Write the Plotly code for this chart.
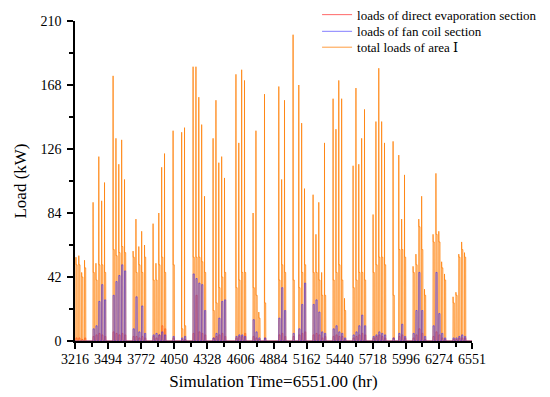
import plotly.graph_objects as go

# dia del año de cada dia con carga (dia 134 = hora 3216)
dias = [134, 135, 136, 137, 140, 141, 142, 143, 144, 147, 148, 149, 150, 151,
        154, 155, 156, 157, 158, 161, 162, 163, 164, 165, 168, 171, 172,
        175, 176, 177, 178, 179, 182, 183, 184, 185, 186, 190, 191, 192, 193,
        196, 197, 198, 200, 205, 206, 207, 210, 212, 213, 214,
        217, 218, 219, 220, 221, 224, 225, 226, 227, 228, 231, 232, 233, 234, 235,
        238, 239, 240, 241, 242, 245, 247, 248, 249, 252, 253, 254, 255, 256,
        259, 260, 261, 262, 263, 266, 267, 268, 269, 270]

# pico de arranque de la carga total (kW)
pico_total = [55, 56, 45, 53, 91, 51, 121, 92, 104, 174, 133, 116, 132, 106,
              59, 80, 62, 72, 63, 77, 51, 84, 114, 123, 138, 137, 140,
              180, 180, 160, 142, 95, 133, 158, 117, 121, 107, 175, 130, 178, 171,
              84, 138, 19, 162, 167, 106, 158, 201, 168, 143, 100,
              96, 70, 91, 45, 130, 159, 139, 171, 159, 28, 115, 166, 116, 133, 152,
              83, 144, 179, 144, 130, 131, 122, 80, 109, 49, 57, 80, 95, 34,
              70, 110, 72, 52, 44, 29, 32, 57, 65, 58]

# carga total durante el resto de la jornada (kW)
base_total = [50, 50, 42, 48, 45, 40, 50, 50, 45, 60, 56, 58, 62, 58,
              55, 45, 50, 45, 55, 40, 40, 50, 55, 45, 50, 8, 10,
              55, 55, 55, 52, 45, 20, 25, 35, 42, 45, 35, 40, 45, 45,
              35, 30, 15, 25, 40, 50, 45, 40, 35, 45, 50,
              45, 45, 40, 30, 30, 40, 45, 50, 40, 20, 35, 40, 45, 45, 40,
              45, 50, 55, 55, 50, 30, 60, 60, 55, 45, 50, 75, 60, 30,
              65, 70, 65, 48, 40, 25, 30, 55, 60, 55]

# carga de la seccion de fan coil (kW)
fan_coil = [0, 0, 0, 0, 8, 10, 26, 37, 27, 30, 39, 43, 50, 46,
            8, 29, 6, 23, 5, 4, 5, 4, 6, 4, 3, 2, 3,
            44, 41, 38, 37, 20, 2, 5, 15, 26, 27, 3, 4, 4, 3,
            14, 6, 2, 2, 15, 35, 20, 5, 8, 24, 38,
            24, 27, 19, 6, 5, 8, 10, 6, 5, 2, 4, 6, 10, 17, 10,
            3, 4, 6, 5, 4, 2, 5, 11, 3, 5, 20, 45, 20, 3,
            10, 45, 18, 5, 2, 2, 2, 3, 4, 3]

# carga de la seccion de evaporacion directa (kW)
evap_directa = [2, 2, 1, 2, 3, 4, 5, 4, 3, 6, 5, 4, 5, 4,
                3, 3, 2, 3, 2, 3, 2, 4, 10, 8, 2, 1, 1,
                5, 30, 6, 5, 4, 2, 3, 4, 5, 3, 2, 3, 3, 5,
                3, 2, 1, 2, 4, 5, 3, 3, 4, 5, 6,
                4, 5, 4, 2, 3, 3, 4, 3, 3, 1, 2, 3, 4, 5, 4,
                2, 3, 4, 3, 2, 2, 3, 4, 2, 2, 4, 8, 5, 1,
                3, 6, 4, 2, 1, 1, 1, 2, 2, 2]

ticks_x = [3216, 3494, 3772, 4050, 4328, 4606, 4884, 5162, 5440, 5718, 5996, 6274, 6551]
ticks_y = [0, 42, 84, 126, 168, 210]

T_INI, T_FIN = 3216, 6551
H_ON, H_OFF = 8, 18  # horas de arranque y parada de cada dia

# series horarias a partir de los datos diarios
xt, yt = [T_INI], [0]
xf, yf = [T_INI], [0]
xe, ye = [T_INI], [0]
for d, p, b, f, e in zip(dias, pico_total, base_total, fan_coil, evap_directa):
    h = d * 24
    xt += [h + H_ON - 1, h + H_ON, h + H_ON + 1, h + H_OFF, h + H_OFF + 1]
    yt += [0, p, b, b, 0]
    xf += [h + H_ON - 1, h + H_ON, h + H_OFF, h + H_OFF + 1]
    yf += [0, f, f, 0]
    xe += [h + H_ON - 1, h + H_ON, h + H_OFF, h + H_OFF + 1]
    ye += [0, e, e, 0]
for serie in (xt, xf, xe):
    serie.append(T_FIN)
for serie in (yt, yf, ye):
    serie.append(0)

fig = go.Figure()

# relleno claro de la carga total (sin leyenda)
fig.add_trace(go.Scatter(x=xt, y=yt, mode='lines', fill='tozeroy',
                         fillcolor='rgba(255,185,120,0.55)', line=dict(width=0),
                         showlegend=False, hoverinfo='skip'))
fig.add_trace(go.Scatter(x=xe, y=ye, mode='lines', name='loads of direct evaporation section',
                         line=dict(color='rgba(255,40,40,0.7)', width=1), legend='legend'))
fig.add_trace(go.Scatter(x=xt, y=yt, mode='lines', name='total loads of area \u2160',
                         line=dict(color='rgba(255,130,10,0.78)', width=1), legend='legend3'))
# el fan coil va encima, semitransparente, para que se vea morado sobre el naranja
fig.add_trace(go.Scatter(x=xf, y=yf, mode='lines', name='loads of fan coil section',
                         line=dict(color='rgba(50,40,255,0.6)', width=1), legend='legend2'))

fuente = 'Liberation Serif, DejaVu Serif, serif'
leyenda = dict(xref='container', yref='container', x=0.5765,
               xanchor='left', yanchor='middle', bgcolor='rgba(0,0,0,0)',
               font=dict(family=fuente, size=13, color='black'), itemwidth=30)
fig.update_layout(
    width=550, height=397,
    margin=dict(l=75, r=78, t=21, b=56, autoexpand=False),
    plot_bgcolor='white', paper_bgcolor='white',
    font=dict(family=fuente, size=14, color='black'),
    legend=dict(leyenda, y=0.963),
    legend2=dict(leyenda, y=0.921),
    legend3=dict(leyenda, y=0.881),
)
fig.update_xaxes(range=[T_INI, T_FIN], tickvals=ticks_x, ticktext=[str(t) for t in ticks_x],
                 tickangle=0, automargin=False, ticklabelstandoff=-2,
                 showline=True, linecolor='black', linewidth=1.5,
                 ticks='outside', ticklen=6, tickwidth=1.5, tickcolor='black',
                 minor=dict(ticks='outside', ticklen=4, tickwidth=1.5, tickcolor='black',
                            tick0=T_INI, dtick=139),
                 showgrid=False, zeroline=False,
                 title=dict(text='Simulation Time=6551.00 (hr)', font=dict(size=17), standoff=10))
fig.update_yaxes(range=[0, 210], tickvals=ticks_y, automargin=False, ticklabelstandoff=3,
                 showline=True, linecolor='black', linewidth=1.5,
                 ticks='outside', ticklen=6, tickwidth=1.5, tickcolor='black',
                 minor=dict(ticks='outside', ticklen=4, tickwidth=1.5, tickcolor='black',
                            tick0=0, dtick=21),
                 showgrid=False, zeroline=False,
                 title=dict(text='Load (kW)', font=dict(size=17), standoff=10))

# quitar el margen por defecto del body para que la figura empiece en (0,0)
fig.write_html("out.html", config={'displayModeBar': False},
               post_script="document.body.style.margin='0';")
